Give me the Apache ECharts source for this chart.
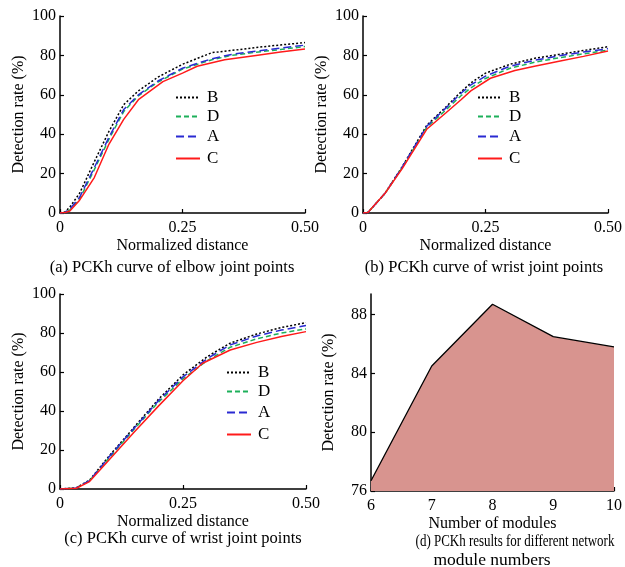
<!DOCTYPE html>
<html><head><meta charset="utf-8">
<script src="https://cdn.jsdelivr.net/npm/echarts@6/dist/echarts.min.js"></script>
<style>html,body{margin:0;padding:0;background:#fff}#c{width:625px;height:567px}</style>
</head><body><div id="c"></div><script>
// ---------- DATA ----------
const seriesNames = ['B', 'D', 'A', 'C'];
// (a) elbow
const aX  = [0, 0.01, 0.02, 0.04, 0.07, 0.1, 0.13, 0.16, 0.2, 0.25, 0.31, 0.35, 0.4, 0.45, 0.5];
const aB  = [0, 0.5, 3, 10, 26, 41.5, 55, 62, 69, 75.5, 81.4, 82.5, 84, 85.3, 86.5];
const aA  = [0, 0.3, 2, 8, 23, 38.5, 52.5, 60, 67, 73.5, 78.3, 80.5, 82.2, 83.7, 85.2];
const aD  = [0, 0.3, 1.5, 7, 22, 37.5, 51.5, 59.5, 66.5, 73, 77.8, 80, 81.6, 83, 84.5];
const aCX = [0, 0.01, 0.02, 0.04, 0.07, 0.1, 0.13, 0.16, 0.21, 0.25, 0.28, 0.336, 0.4, 0.45, 0.5];
const aC  = [0, 0.2, 1, 6.5, 18, 35, 47.5, 57.5, 66.7, 71, 74.5, 77.8, 80, 81.7, 83.3];
// (b) wrist
const bX  = [0, 0.01, 0.045, 0.08, 0.13, 0.17, 0.2, 0.22, 0.25, 0.3, 0.35, 0.4, 0.45, 0.5];
const bB  = [0, 0.3, 10, 23.5, 44.5, 54, 61.5, 66, 71, 75.5, 78.5, 80.5, 82.5, 84.4];
const bA  = [0, 0.3, 10, 23.3, 44, 53.5, 60.8, 65, 69.5, 74.5, 77.5, 79.8, 81.7, 83.4];
const bD  = [0, 0.3, 10, 23, 43.5, 52.5, 59.5, 63.5, 68.3, 73.5, 76.5, 78.8, 80.8, 82.7];
const bCX = [0, 0.01, 0.045, 0.08, 0.13, 0.17, 0.2, 0.22, 0.26, 0.31, 0.35, 0.4, 0.45, 0.5];
const bC  = [0, 0.3, 10, 22.5, 42.5, 51, 57.5, 62, 68.4, 72.3, 74.5, 77, 79.5, 82.2];
// (c) wrist
const cX  = [0, 0.033, 0.06, 0.1, 0.15, 0.2, 0.25, 0.3, 0.346, 0.4, 0.45, 0.5];
const cB  = [0, 0.6, 4.5, 17, 31.5, 46, 58.5, 68, 74.8, 79.5, 82.8, 85.3];
const cA  = [0, 0.5, 4.3, 16.5, 31, 45.3, 57.5, 67, 73.9, 78.5, 81.5, 83.8];
const cD  = [0, 0.5, 4.2, 16, 30.5, 44.5, 56.5, 66, 72.7, 77, 80, 82.1];
const cCX = [0, 0.033, 0.06, 0.1, 0.15, 0.2, 0.25, 0.29, 0.346, 0.4, 0.45, 0.5];
const cC  = [0, 0.4, 3.8, 15, 29, 42.5, 55.5, 64.5, 71.3, 75.2, 78.2, 80.7];
// (d) modules
const modules = [6, 7, 8, 9, 10];
const moduleRate = [76.7, 84.5, 88.7, 86.5, 85.8];
const moduleTicksY = [76, 80, 84, 88];

// ---------- STYLE ----------
const FONT = "'Liberation Serif', 'Times New Roman', serif";
const lineStyles = {
  B: {color: '#000000', type: [2, 2]},
  D: {color: '#1db05a', type: [5, 3]},
  A: {color: '#2a2ad2', type: [8, 4]},
  C: {color: '#ff1a1a', type: 'solid'}
};
const txt = {color: '#000', fontFamily: FONT, fontSize: 16};
const pair = (xs, ys) => xs.map((x, i) => [x, ys[i]]);

const grids = [
  {left: 60, top: 16, width: 245, height: 197},
  {left: 363, top: 16, width: 245, height: 197},
  {left: 60, top: 294, width: 246, height: 195},
  {left: 371, top: 294, width: 245, height: 197}
];

function xAxisCurve(g) {
  return {type: 'value', gridIndex: g, min: 0, max: 0.5, interval: 0.25,
    axisLine: {lineStyle: {color: '#000', width: 1.5}},
    axisTick: {inside: true, length: 4, lineStyle: {color: '#000', width: 1.2}},
    axisLabel: Object.assign({margin: 7, formatter: v => v === 0 ? '0' : v.toFixed(2)}, txt),
    splitLine: {show: false},
    name: 'Normalized distance', nameLocation: 'middle', nameGap: 25, nameTextStyle: txt};
}
function yAxisCurve(g) {
  return {type: 'value', gridIndex: g, min: 0, max: 100, interval: 20,
    axisLine: {lineStyle: {color: '#000', width: 1.5}},
    axisTick: {inside: true, length: 4, lineStyle: {color: '#000', width: 1.2}},
    axisLabel: Object.assign({margin: 4}, txt),
    splitLine: {show: false},
    name: 'Detection rate (%)', nameLocation: 'middle', nameGap: 33, nameTextStyle: txt};
}

const xAxes = [xAxisCurve(0), xAxisCurve(1), xAxisCurve(2), {
  type: 'value', gridIndex: 3, min: 6, max: 10, interval: 1,
  axisLine: {lineStyle: {color: '#000', width: 1.5}},
  axisTick: {inside: true, length: 4, lineStyle: {color: '#000', width: 1.2}},
  axisLabel: Object.assign({margin: 7}, txt),
  splitLine: {show: false},
  name: 'Number of modules', nameLocation: 'middle', nameGap: 25, nameTextStyle: txt}];
const yAxes = [yAxisCurve(0), yAxisCurve(1), yAxisCurve(2), {
  type: 'value', gridIndex: 3, min: 76, max: 89.4,
  axisLine: {lineStyle: {color: '#000', width: 1.5}},
  axisTick: {inside: true, length: 4, customValues: moduleTicksY, lineStyle: {color: '#000', width: 1.2}},
  axisLabel: Object.assign({margin: 4, customValues: moduleTicksY}, txt),
  splitLine: {show: false},
  name: 'Detection rate (%)', nameLocation: 'middle', nameGap: 34, nameTextStyle: txt}];

const panelData = [
  {B: pair(aX, aB), D: pair(aX, aD), A: pair(aX, aA), C: pair(aCX, aC)},
  {B: pair(bX, bB), D: pair(bX, bD), A: pair(bX, bA), C: pair(bCX, bC)},
  {B: pair(cX, cB), D: pair(cX, cD), A: pair(cX, cA), C: pair(cCX, cC)}
];
const series = [];
panelData.forEach((pd, g) => {
  seriesNames.forEach(n => {
    series.push({type: 'line', name: n, xAxisIndex: g, yAxisIndex: g, data: pd[n],
      symbol: 'none', silent: true, animation: false,
      lineStyle: {color: lineStyles[n].color, type: lineStyles[n].type, width: 1.5},
      itemStyle: {color: lineStyles[n].color}});
  });
});
series.push({type: 'line', name: 'modules', xAxisIndex: 3, yAxisIndex: 3,
  data: pair(modules, moduleRate), symbol: 'none', animation: false, silent: true,
  lineStyle: {color: '#000', width: 1.3},
  areaStyle: {color: '#d8948f', opacity: 1, origin: 'start'}});

// legends: one per item for exact vertical placement
const legendPos = [
  {left: 175, tops: [98, 117, 137, 159]},
  {left: 477, tops: [98, 117, 137, 159]},
  {left: 226, tops: [373, 392, 413, 435]}
];
const legends = [];
legendPos.forEach(p => {
  seriesNames.forEach((n, i) => {
    legends.push({data: [n], left: p.left, top: p.tops[i] - 9, orient: 'vertical',
      itemWidth: 24, itemHeight: 14, itemGap: 0, selectedMode: false, padding: 0,
      itemStyle: {opacity: 0},
      textStyle: {color: '#000', fontFamily: FONT, fontSize: 17, padding: [0, 0, 0, 2]}});
  });
});

const capStyle = (t, x, y, fs, sx) => ({type: 'text', x: x, y: y, scaleX: sx || 1,
  style: {text: t, fill: '#000', font: fs + 'px ' + FONT, textAlign: 'center', textVerticalAlign: 'middle'}});
const graphic = [
  capStyle('(a) PCKh curve of elbow joint points', 172, 268, 16.5),
  capStyle('(b) PCKh curve of wrist joint points', 484, 268, 16.5),
  capStyle('(c) PCKh curve of wrist joint points', 183, 539, 16.5),
  capStyle('(d) PCKh results for different network', 515, 542, 16, 0.81),
  capStyle('module numbers', 492, 560, 17.5)
];

const chart = echarts.init(document.getElementById('c'), null, {renderer: 'canvas'});
chart.setOption({animation: false, backgroundColor: '#fff', grid: grids,
  xAxis: xAxes, yAxis: yAxes, series: series, legend: legends, graphic: graphic});
</script></body></html>
